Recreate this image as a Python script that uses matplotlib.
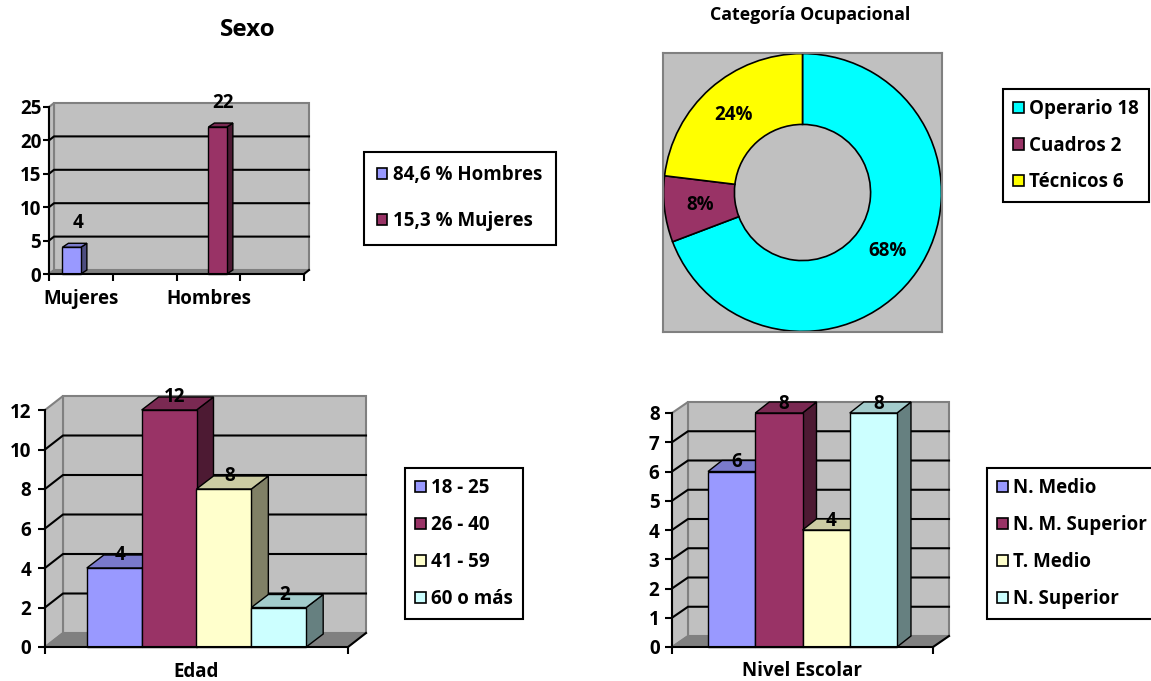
import matplotlib
matplotlib.use("Agg")
import matplotlib.pyplot as plt
from matplotlib.patches import Polygon, Patch
from matplotlib.colors import to_rgb
import numpy as np

# ---------------- data ----------------
sexo_categories = ['Mujeres', 'Hombres']
sexo_series_labels = ['84,6 % Hombres', '15,3 % Mujeres']
sexo_series1 = [4, 0]
sexo_series2 = [0, 22]
sexo_yticks = [0, 5, 10, 15, 20, 25]

ocup_labels = ['Operario 18', 'Cuadros 2', 'Técnicos 6']
ocup_values = [18, 2, 6]
ocup_pct_labels = ['68%', '8%', '24%']

edad_title = 'Edad'
edad_labels = ['18 - 25', '26 - 40', '41 - 59', '60 o más']
edad_values = [4, 12, 8, 2]
edad_yticks = [0, 2, 4, 6, 8, 10, 12]

nivel_title = 'Nivel Escolar'
nivel_labels = ['N. Medio', 'N. M. Superior', 'T. Medio', 'N. Superior']
nivel_values = [6, 8, 4, 8]
nivel_yticks = [0, 1, 2, 3, 4, 5, 6, 7, 8]

# ---------------- style ----------------
bar_colors = ['#9999FF', '#993366', '#FFFFCC', '#CCFFFF']
pie_colors = ['#00FFFF', '#993366', '#FFFF00']
WALL = '#C0C0C0'
EDGE = '#808080'
FS = 13.5

W, H = 1151, 681
plt.rcParams['font.family'] = ['Open Sans', 'DejaVu Sans']
plt.rcParams['font.weight'] = 'bold'
fig = plt.figure(figsize=(W / 100, H / 100), dpi=100)


def rect(x0, x1, ytop, ybot):
    return [x0 / W, 1 - ybot / H, (x1 - x0) / W, (ybot - ytop) / H]


def shade(c, f):
    r, g, b = to_rgb(c)
    return (r * f, g * f, b * f)


def setup_3d(ax, xlim, ticks, wall_px, xticks, catpos, catlabels, ypad, catpad, ticklen):
    ax.set_xlim(*xlim)
    ax.set_ylim(0, ticks[-1])
    bb = ax.get_position()
    wpx, hpx = bb.width * W, bb.height * H
    ddx = wall_px[0] / wpx * (xlim[1] - xlim[0])
    ddy = wall_px[1] / hpx * ticks[-1]
    xmin, xmax, ymax = xlim[0], xlim[1], ticks[-1]
    ax.add_patch(Polygon([(xmin + ddx, ddy), (xmax + ddx, ddy), (xmax + ddx, ymax + ddy),
                          (xmin + ddx, ymax + ddy)], fc=WALL, ec=EDGE, lw=1.5,
                         clip_on=False, zorder=0.5))
    ax.add_patch(Polygon([(xmin, 0), (xmin + ddx, ddy), (xmin + ddx, ymax + ddy), (xmin, ymax)],
                         fc=WALL, ec=EDGE, lw=1.5, clip_on=False, zorder=0.5))
    ax.add_patch(Polygon([(xmin, 0), (xmax, 0), (xmax + ddx, ddy), (xmin + ddx, ddy)],
                         fc=EDGE, ec=EDGE, lw=1, clip_on=False, zorder=0.6))
    for t in ticks[1:-1]:
        ax.plot([xmin, xmin + ddx, xmax + ddx], [t, t + ddy, t + ddy], color='black',
                lw=1.5, clip_on=False, zorder=0.8)
    ax.plot([xmax, xmax + ddx], [0, ddy], color='black', lw=1.5, clip_on=False, zorder=0.8)
    ax.set_facecolor('none')
    for s in ['top', 'right']:
        ax.spines[s].set_visible(False)
    for s in ['left', 'bottom']:
        ax.spines[s].set_linewidth(1.5)
        ax.spines[s].set_zorder(3)
    ax.set_yticks(ticks)
    ax.set_yticklabels([str(t) for t in ticks], fontsize=FS, fontweight='bold')
    ax.tick_params(axis='y', length=ticklen, width=1.5, pad=ypad)
    ax.set_xticks(xticks)
    ax.set_xticklabels([''] * len(xticks))
    ax.tick_params(axis='x', which='major', length=5, width=1.5)
    ax.set_xticks(catpos, minor=True)
    ax.set_xticklabels(catlabels, minor=True, fontsize=FS, fontweight='bold')
    ax.tick_params(axis='x', which='minor', length=0, pad=catpad)
    return ax


def draw_bars(ax, xs, vals, w, colors, bar_px, xspan, ymax):
    bb = ax.get_position()
    bdx = bar_px[0] / (bb.width * W) * xspan
    bdy = bar_px[1] / (bb.height * H) * ymax
    for x, v, c in zip(xs, vals, colors):
        if v == 0:
            continue
        x0, x1 = x - w / 2, x + w / 2
        ax.add_patch(Polygon([(x1, 0), (x1 + bdx, bdy), (x1 + bdx, v + bdy), (x1, v)],
                             fc=shade(c, 0.5), ec='black', lw=1, clip_on=False, zorder=2))
        ax.add_patch(Polygon([(x0, v), (x1, v), (x1 + bdx, v + bdy), (x0 + bdx, v + bdy)],
                             fc=shade(c, 0.8), ec='black', lw=1, clip_on=False, zorder=2))
        ax.bar(x, v, w, color=c, edgecolor='black', lw=1, zorder=2, clip_on=False)


def value_labels(ax, xs, vals, off):
    for x, v in zip(xs, vals):
        if v == 0:
            continue
        ax.annotate(str(v), (x, v), xytext=off, textcoords='offset pixels', ha='center',
                    va='center', fontsize=FS, fontweight='bold', zorder=5, annotation_clip=False)


def legend(labels, colors, anchor, spacing, borderpad=0.55):
    handles = [Patch(fc=c, ec='black', lw=1.2) for c in colors]
    lg = fig.legend(handles, labels, loc='upper left',
                    bbox_to_anchor=(anchor[0] / W, 1 - anchor[1] / H), borderaxespad=0,
                    frameon=True, fancybox=False, edgecolor='black', framealpha=1,
                    prop={'size': FS, 'weight': 'bold'}, handlelength=0.55, handleheight=0.55,
                    handletextpad=0.3, labelspacing=spacing, borderpad=borderpad)
    lg.get_frame().set_linewidth(1.5)
    return lg


# ---------------- Sexo ----------------
ax1 = fig.add_axes(rect(49, 304, 107, 274))
cat_pos = [2 * i + 0.5 for i in range(len(sexo_categories))]
setup_3d(ax1, (0, 4), sexo_yticks, (5, 4), [0, 1, 2, 3, 4], cat_pos, sexo_categories,
         ypad=1.5, catpad=11, ticklen=4)
wS = 0.29
xs1 = [c - wS / 2 for c in cat_pos]
xs2 = [c + wS / 2 for c in cat_pos]
draw_bars(ax1, xs1, sexo_series1, wS, [bar_colors[0]] * 2, (6, 4), 4, 25)
draw_bars(ax1, xs2, sexo_series2, wS, [bar_colors[1]] * 2, (6, 4), 4, 25)
value_labels(ax1, xs1, sexo_series1, (6, 24))
value_labels(ax1, xs2, sexo_series2, (5, 24))
fig.text(248 / W, 1 - 30 / H, 'Sexo', fontsize=17.5, fontweight='bold', ha='center', va='center')
legend(sexo_series_labels, bar_colors[:2], (364, 152), 1.4, borderpad=0.7)

# ---------------- Categoría Ocupacional ----------------
ax2 = fig.add_axes(rect(663, 942, 53, 332))
wedges, _ = ax2.pie(ocup_values, colors=pie_colors, startangle=90, counterclock=False,
                    radius=1.0, wedgeprops=dict(width=0.51, edgecolor='black', linewidth=1.2))
ax2.set_frame_on(True)
ax2.set_xlim(-1.004, 1.004)
ax2.set_ylim(-1.004, 1.004)
ax2.set_aspect('auto')
ax2.set_facecolor(WALL)
ax2.patch.set_visible(True)
ax2.set_xticks([])
ax2.set_yticks([])
for s in ax2.spines.values():
    s.set_visible(True)
    s.set_color(EDGE)
    s.set_linewidth(1.5)
for wdg, lab in zip(wedges, ocup_pct_labels):
    th = np.deg2rad((wdg.theta1 + wdg.theta2) / 2)
    ax2.text(0.745 * np.cos(th), 0.745 * np.sin(th), lab, ha='center', va='center',
             fontsize=FS, fontweight='bold')
fig.text(810 / W, 1 - 15 / H, 'Categoría Ocupacional', fontsize=12.8, fontweight='bold',
         ha='center', va='center')
legend(ocup_labels, pie_colors, (1003, 89), 0.87)

# ---------------- Edad ----------------
w4 = 0.181
x4 = [0.5 + (i - 1.5) * w4 for i in range(4)]
ax3 = fig.add_axes(rect(45, 348, 410, 647))
setup_3d(ax3, (0, 1), edad_yticks, (18, 14), [0, 1], [0.5], [edad_title],
         ypad=5, catpad=10.5, ticklen=5)
draw_bars(ax3, x4, edad_values, w4, bar_colors, (17, 13), 1, 12)
value_labels(ax3, x4, edad_values, (6, 13))
legend(edad_labels, bar_colors, (405, 468), 0.9)

# ---------------- Nivel Escolar ----------------
ax4 = fig.add_axes(rect(672, 933, 413, 647))
setup_3d(ax4, (0, 1), nivel_yticks, (16, 11), [0, 1], [0.5], [nivel_title],
         ypad=4, catpad=10, ticklen=5)
draw_bars(ax4, x4, nivel_values, w4, bar_colors, (14, 11), 1, 8)
value_labels(ax4, x4, nivel_values, (5, 9))
legend(nivel_labels, bar_colors, (987, 468), 0.9)

fig.savefig('out.png', dpi=100)
